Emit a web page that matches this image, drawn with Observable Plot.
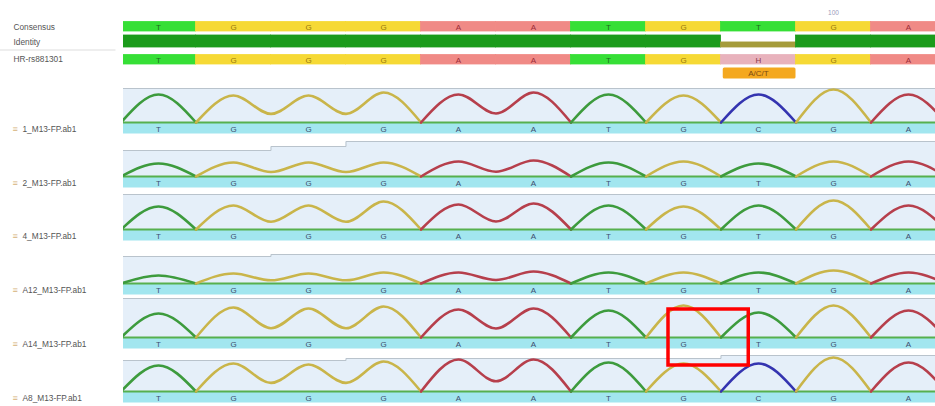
<!DOCTYPE html>
<html><head><meta charset="utf-8">
<script src="https://cdn.jsdelivr.net/npm/d3@7"></script>
<script src="https://cdn.jsdelivr.net/npm/@observablehq/plot@0.6"></script>
<style>body{margin:0;background:#fff;} svg{display:block}</style>
</head><body><div id="chart"></div>
<script>
// ---------- data ----------
const consensusCalls = ["T","G","G","G","A","A","T","G","T","G","A"];
const referenceCalls = ["T","G","G","G","A","A","T","G","H","G","A"];
const identityPct    = [100,100,100,100,100,100,100,100,42,100,100];
const ambiguity      = [{pos: 8, label: "A/C/T"}];
const rulerTicks     = [{pos: 9, label: "100"}];
const headerLabels   = ["Consensus", "Identity", "HR-rs881301"];

const trackNames = ["1_M13-FP.ab1","2_M13-FP.ab1","4_M13-FP.ab1","A12_M13-FP.ab1","A14_M13-FP.ab1","A8_M13-FP.ab1"];
const callsT1 = ["T","G","G","G","A","A","T","G","C","G","A"];
const callsT2 = ["T","G","G","G","A","A","T","G","T","G","A"];
const callsT3 = ["T","G","G","G","A","A","T","G","T","G","A"];
const callsT4 = ["T","G","G","G","A","A","T","G","T","G","A"];
const callsT5 = ["T","G","G","G","A","A","T","G","T","G","A"];
const callsT6 = ["T","G","G","G","A","A","T","G","C","G","A"];
// peak heights (signal, px-equivalent)
const peaksT1 = [28,27,27,30,28,30,28,27,28,33,28];
const peaksT2 = [13,14,14,14,15,16,14,15,13,15,15];
const peaksT3 = [23,24,24,28,25,26,24,23,24,29,24];
const peaksT4 = [8,10,10,11,11,12,11,11,11,13,11];
const peaksT5 = [24,30,29,31,28,29,27,32,25,32,27];
const peaksT6 = [26,28,27,30,32,32,29,28,28,34,29];
// quality (height of shaded region)
const qualT1 = [34,34,34,34,34,34,34,34,34,34,34];
const qualT2 = [26,26,30,35,35,35,35,35,35,35,35];
const qualT3 = [35,35,35,35,35,35,35,35,35,35,35];
const qualT4 = [27,27,29,29,29,29,29,29,29,29,29];
const qualT5 = [39,39,39,39,39,39,39,39,39,39,39];
const qualT6 = [31,31,31,33,33,33,33,33,36,36,36];
const highlight = [{track: 4, from: 6.8, to: 7.87}];

// ---------- layout / styles ----------
const W = 935, H = 406, ML = 123, pxPerBase = 75;
const xDomain = [-(158 - ML) / pxPerBase, (W - 158) / pxPerBase];
const baselines = [122, 176, 229, 283, 337, 391];
const bandH = 11.5, valley = 0.32;
const cellFill = {T: "#36df36", G: "#f6d935", A: "#f08a86", C: "#8080ee", H: "#e8b2bc"};
const letterFill = {T: "#1e6b1e", G: "#96780f", A: "#9a2c38", C: "#2a2a90", H: "#8a3a4a"};
const traceColor = {T: "#3d9b3d", G: "#c9b54a", A: "#b63f4c", C: "#3434b0"};
const font = "Liberation Sans, Arial, sans-serif";

const allCalls = [callsT1, callsT2, callsT3, callsT4, callsT5, callsT6];
const allPeaks = [peaksT1, peaksT2, peaksT3, peaksT4, peaksT5, peaksT6];
const allQual = [qualT1, qualT2, qualT3, qualT4, qualT5, qualT6];

const consCells = consensusCalls.map((b, i) => ({i, b}));
const refCells = referenceCalls.map((b, i) => ({i, b}));
const idCells = identityPct.map((p, i) => ({i, p}));

const traceRows = [];
allCalls.forEach((calls, t) => {
  const h = allPeaks[t], b = baselines[t];
  let i = 0;
  while (i < calls.length) {
    let j = i;
    while (j + 1 < calls.length && calls[j + 1] === calls[i]) j++;
    const seg = t + "-" + i, c = traceColor[calls[i]];
    traceRows.push({seg, c, x: i - 0.5, y: b});
    for (let k = i; k <= j; k++) {
      traceRows.push({seg, c, x: k, y: b - h[k]});
      if (k < j) traceRows.push({seg, c, x: k + 0.5, y: b - valley * Math.min(h[k], h[k + 1])});
    }
    traceRows.push({seg, c, x: j + 0.5, y: b});
    i = j + 1;
  }
});

const qualRows = [];
allQual.forEach((q, t) => {
  q.forEach((v, i) => {
    qualRows.push({t, x: i - 0.5, y: baselines[t] - v, b: baselines[t]});
    qualRows.push({t, x: i + 0.5, y: baselines[t] - v, b: baselines[t]});
  });
});

const tracks = trackNames.map((name, t) => ({t, name, b: baselines[t]}));
const bandLetters = [];
allCalls.forEach((calls, t) => calls.forEach((c, i) => bandLetters.push({i, c, b: baselines[t]})));

const leftEdge = xDomain[0] - ML / pxPerBase;

const plot = Plot.plot({
  width: W, height: H,
  marginLeft: ML, marginRight: 0, marginTop: 0, marginBottom: 0,
  x: {domain: xDomain, axis: null},
  y: {domain: [0, H], range: [0, H], axis: null},
  color: {type: "identity"},
  style: {fontFamily: font, background: "#fff"},
  marks: [
    Plot.rect(consCells, {x1: d => d.i - 0.5, x2: d => d.i + 0.5, y1: 21.5, y2: 31, fill: d => cellFill[d.b], stroke: d => cellFill[d.b], strokeWidth: 0.8, clip: "frame"}),
    Plot.text(consCells, {x: "i", y: 26.5, text: "b", fill: d => letterFill[d.b], fontSize: 8}),
    Plot.rect(idCells, {x1: d => d.i - 0.5, x2: d => d.i + 0.5, y1: d => 47 - 12 * d.p / 100, y2: 47,
      fill: d => d.p === 100 ? "#1b9b1b" : "#a59c3a", stroke: d => d.p === 100 ? "#1b9b1b" : "#a59c3a", strokeWidth: 0.8, clip: "frame"}),
    Plot.rect(refCells, {x1: d => d.i - 0.5, x2: d => d.i + 0.5, y1: 54.5, y2: 64, fill: d => cellFill[d.b], stroke: d => cellFill[d.b], strokeWidth: 0.8, clip: "frame"}),
    Plot.text(refCells, {x: "i", y: 59.5, text: "b", fill: d => letterFill[d.b], fontSize: 8}),
    Plot.rect(ambiguity, {x1: d => d.pos - 0.47, x2: d => d.pos + 0.5, y1: 67.5, y2: 78.5, fill: "#f4a81f", rx: 1.5}),
    Plot.text(ambiguity, {x: "pos", y: 73.2, text: "label", fill: "#7a4a12", fontSize: 8}),
    Plot.text(rulerTicks, {x: "pos", y: 12, text: "label", fill: "#9a9abc", fontSize: 6.5}),
    Plot.text(headerLabels, {frameAnchor: "left", dx: 13 - ML, y: [27, 42, 59], text: d => d, textAnchor: "start", fill: "#555", fontSize: 8.3}),
    Plot.ruleY([49.5], {x1: leftEdge, x2: xDomain[0] - 0.1, stroke: "#ddd", strokeWidth: 1}),
    Plot.areaY(qualRows, {x: "x", y1: "y", y2: "b", z: "t", fill: "#e5eff9", clip: "frame"}),
    Plot.line(qualRows, {x: "x", y: "y", z: "t", stroke: "#b9c3cc", strokeWidth: 1, clip: "frame"}),
    Plot.rect(tracks, {x1: xDomain[0], x2: xDomain[1], y1: d => d.b, y2: d => d.b + bandH, fill: "#a2e6ef"}),
    Plot.ruleY(tracks, {y: "b", stroke: "#56b04e", strokeWidth: 2.2}),
    Plot.line(traceRows, {x: "x", y: "y", z: "seg", stroke: "c", strokeWidth: 2.6, curve: "monotone-x", clip: "frame", strokeLinejoin: "round"}),
    Plot.text(bandLetters, {x: "i", y: d => d.b + 6.6, text: "c", fill: "#3d4d6e", fontSize: 8}),
    Plot.text(tracks, {frameAnchor: "left", dx: 12 - ML, y: d => d.b + 7, text: () => "≡", fill: "#d6b27a", fontSize: 9, textAnchor: "start"}),
    Plot.text(tracks, {frameAnchor: "left", dx: 22 - ML, y: d => d.b + 7, text: "name", fill: "#555", fontSize: 8.3, textAnchor: "start"}),
    Plot.rect(highlight, {x1: "from", x2: "to", y1: d => baselines[d.track] - 28, y2: d => baselines[d.track] + 28,
      fill: "none", stroke: "#ff0000", strokeWidth: 3.5})
  ]
});
document.getElementById("chart").appendChild(plot);
</script>
</body></html>
